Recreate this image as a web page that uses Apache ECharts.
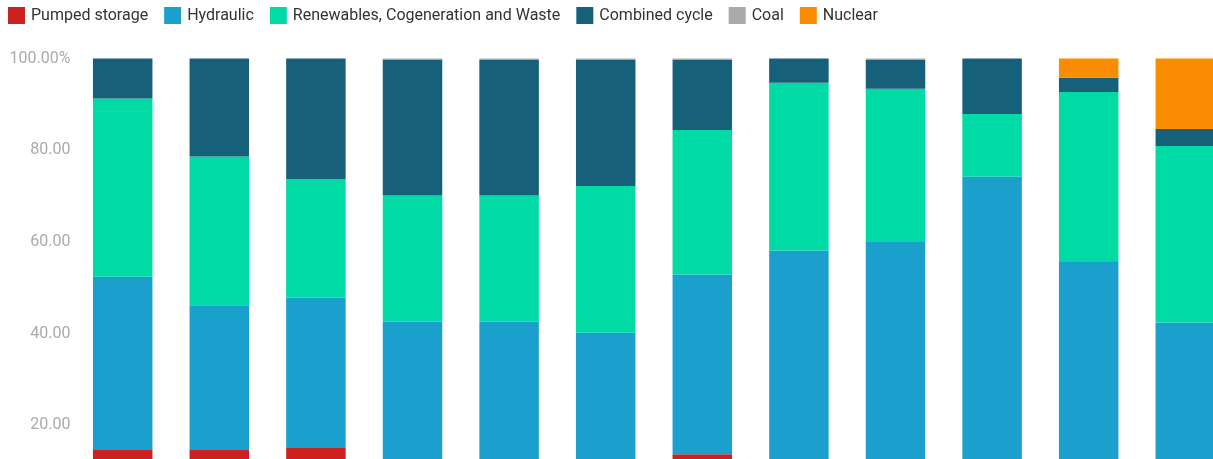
<!DOCTYPE html>
<html>
<head>
<meta charset="utf-8">
<script src="https://cdn.jsdelivr.net/npm/echarts@6/dist/echarts.min.js"></script>
<style>
html,body{margin:0;padding:0;width:1213px;height:459px;overflow:hidden;background:#fff;}
#chart{width:1240px;height:560px;}
</style>
</head>
<body>
<div id="chart"></div>
<script>
// Categories (x-axis labels are outside the visible area in the reference)
const categories = ['Jan','Feb','Mar','Apr','May','Jun','Jul','Aug','Sep','Oct','Nov','Dec'];
const seriesNames = ['Pumped storage','Hydraulic','Renewables, Cogeneration and Waste','Combined cycle','Coal','Nuclear'];
const pumpedStorage = [14.6, 14.6, 15.2, 0, 0, 0, 13.7, 0, 0, 0, 0, 0];
const hydraulic     = [37.8, 31.6, 32.6, 42.6, 42.6, 40.2, 39.2, 58.1, 60.0, 74.2, 55.6, 42.4];
const renewables    = [38.9, 32.4, 25.9, 27.5, 27.5, 32.0, 31.5, 36.6, 33.4, 13.7, 37.1, 38.5];
const combinedCycle = [8.7, 21.4, 26.3, 29.7, 29.7, 27.6, 15.4, 5.3, 6.4, 12.1, 3.1, 3.7];
const coal          = [0, 0, 0, 0.2, 0.2, 0.2, 0.2, 0, 0.2, 0, 0, 0];
const nuclear       = [0, 0, 0, 0, 0, 0, 0, 0, 0, 0, 4.2, 15.4];
const yTicks = [0, 20, 40, 60, 80, 100];

const colors = ['#cd2121', '#1ba0cd', '#00dba6', '#17607a', '#aaaaaa', '#f98c00'];
const dataSets = [pumpedStorage, hydraulic, renewables, combinedCycle, coal, nuclear];

const chart = echarts.init(document.getElementById('chart'), null, {renderer: 'canvas'});
chart.setOption({
  animation: false,
  color: colors,
  legend: {
    left: 3,
    top: 2,
    itemWidth: 17,
    itemHeight: 17,
    itemGap: 16,
    icon: 'rect',
    textStyle: {fontFamily: 'Roboto', fontSize: 16, color: '#333', padding: [0, 0, 0, 1]},
    data: seriesNames
  },
  grid: {left: 74.4, right: 6.4, top: 58.5, bottom: 43, containLabel: false},
  xAxis: {
    type: 'category',
    data: categories,
    axisLine: {show: false},
    axisTick: {show: false},
    axisLabel: {show: false}
  },
  yAxis: {
    type: 'value',
    min: yTicks[0],
    max: yTicks[yTicks.length - 1],
    interval: 20,
    splitLine: {show: false},
    axisLine: {show: false},
    axisTick: {show: false},
    axisLabel: {
      margin: 4,
      fontFamily: 'Roboto',
      fontSize: 16,
      color: '#aaaaaa',
      formatter: function (v) { return v === 100 ? v.toFixed(2) + '%' : v.toFixed(2); }
    }
  },
  series: seriesNames.map(function (name, i) {
    return {
      name: name,
      type: 'bar',
      stack: 'total',
      barWidth: 59.5,
      data: dataSets[i],
      itemStyle: {color: colors[i]}
    };
  })
});
</script>
</body>
</html>
